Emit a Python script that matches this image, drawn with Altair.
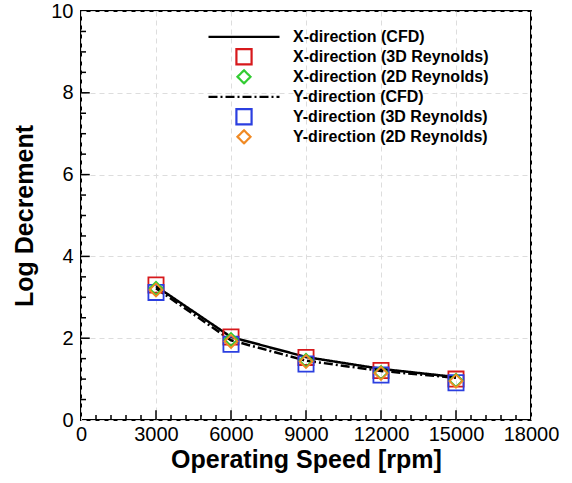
import altair as alt
import pandas as pd

speeds = [3000, 6000, 9000, 12000, 15000]
x_cfd = [3.27, 2.03, 1.54, 1.25, 1.05]
y_cfd = [3.22, 1.95, 1.45, 1.20, 1.03]
x_3d = [3.30, 2.03, 1.53, 1.21, 1.00]
x_2d = [3.22, 1.97, 1.46, 1.16, 0.97]
y_3d = [3.12, 1.85, 1.37, 1.10, 0.91]
y_2d = [3.18, 1.92, 1.43, 1.14, 0.95]

series_names = [
    "X-direction (CFD)",
    "X-direction (3D Reynolds)",
    "X-direction (2D Reynolds)",
    "Y-direction (CFD)",
    "Y-direction (3D Reynolds)",
    "Y-direction (2D Reynolds)",
]
series_colors = ["#000000", "#d7191c", "#33cc33", "#000000", "#2b3fe0", "#f08a24"]
series_shapes = ["stroke", "square", "diamond", "stroke", "square", "diamond"]
series_sizes = [5041, 230, 170, 5041, 230, 170]
series_dash = [[1, 0], [1, 0], [1, 0], [9, 3, 2, 3], [1, 0], [1, 0]]

x_major = [3000, 6000, 9000, 12000, 15000]
x_minor = [600, 1200, 1800, 2400, 3600, 4200, 4800, 5400, 6600, 7200, 7800, 8400,
           9600, 10200, 10800, 11400, 12600, 13200, 13800, 14400, 15600, 16200, 16800, 17400]
y_major = [2, 4, 6, 8]
y_minor = [0.5, 1, 1.5, 2.5, 3, 3.5, 4.5, 5, 5.5, 6.5, 7, 7.5, 8.5, 9, 9.5]

FONT = "Liberation Sans"

lines_df = pd.DataFrame(
    [{"speed": s, "value": v, "series": series_names[0]} for s, v in zip(speeds, x_cfd)]
    + [{"speed": s, "value": v, "series": series_names[3]} for s, v in zip(speeds, y_cfd)]
)
pts = []
for name, vals in [(series_names[1], x_3d), (series_names[4], y_3d),
                   (series_names[2], x_2d), (series_names[5], y_2d)]:
    for s, v in zip(speeds, vals):
        pts.append({"speed": s, "value": v, "series": name})
pts_df = pd.DataFrame(pts)

xscale = alt.Scale(domain=[0, 18000], nice=False, zero=False)
yscale = alt.Scale(domain=[0, 10], nice=False)

x_axis = alt.Axis(values=[0, 3000, 6000, 9000, 12000, 15000, 18000], format="d",
                  title="Operating Speed [rpm]", ticks=False, domain=False,
                  grid=True, gridDash=[5, 4], gridColor="#dddddd", gridWidth=1,
                  labelFontSize=20, labelColor="black", labelFont=FONT, labelPadding=4,
                  titleFontSize=25, titleFont=FONT, titleFontWeight="bold",
                  titleColor="black", titlePadding=3, labelFlush=False, labelOverlap=False)
y_axis = alt.Axis(values=[0, 2, 4, 6, 8, 10], title="Log Decrement", ticks=False, domain=False,
                  grid=True, gridDash=[5, 4], gridColor="#dddddd", gridWidth=1,
                  labelFontSize=20, labelColor="black", labelFont=FONT, labelPadding=8,
                  titleFontSize=25, titleFont=FONT, titleFontWeight="bold",
                  titleColor="black", titlePadding=13, labelFlush=False, labelOverlap=False)

color = alt.Color("series:N", scale=alt.Scale(domain=series_names, range=series_colors),
                  sort=series_names,
                  legend=alt.Legend(title=None, orient="none", legendX=126, legendY=16,
                                    labelFont=FONT, labelFontSize=16, labelFontWeight="bold",
                                    labelColor="black", symbolStrokeWidth=2.2,
                                    clipHeight=19.6, labelOffset=12, rowPadding=0,
                                    labelLimit=400, symbolFillColor="transparent"))
shape = alt.Shape("series:N", scale=alt.Scale(domain=series_names, range=series_shapes),
                  sort=series_names, legend=alt.Legend(title=None))
size = alt.Size("series:N",
                scale=alt.Scale(type="ordinal", domain=series_names, range=series_sizes),
                sort=series_names, legend=alt.Legend(title=None))
dash = alt.StrokeDash("series:N", scale=alt.Scale(domain=series_names, range=series_dash),
                      sort=series_names, legend=alt.Legend(title=None))

base_x = alt.X("speed:Q", scale=xscale, axis=x_axis)
base_y = alt.Y("value:Q", scale=yscale, axis=y_axis)

lines = alt.Chart(lines_df).mark_line(strokeWidth=2.5).encode(
    x=base_x, y=base_y, color=color, strokeDash=dash)

points = alt.Chart(pts_df).mark_point(filled=False, strokeWidth=1.8, opacity=1).encode(
    x=alt.X("speed:Q", scale=xscale), y=alt.Y("value:Q", scale=yscale),
    color=color, shape=shape, size=size)

# inward tick marks, built in data units
xt_df = pd.DataFrame({"pos": x_major + x_minor,
                      "y0": [0.0] * (len(x_major) + len(x_minor)),
                      "y1": [0.24] * len(x_major) + [0.12] * len(x_minor)})
yt_df = pd.DataFrame({"pos": y_major + y_minor,
                      "x0": [0.0] * (len(y_major) + len(y_minor)),
                      "x1": [350.0] * len(y_major) + [200.0] * len(y_minor)})
xticks = alt.Chart(xt_df).mark_rule(color="black", strokeWidth=1.5).encode(
    x=alt.X("pos:Q", scale=xscale), y=alt.Y("y0:Q", scale=yscale), y2="y1:Q")
yticks = alt.Chart(yt_df).mark_rule(color="black", strokeWidth=1.5).encode(
    y=alt.Y("pos:Q", scale=yscale), x=alt.X("x0:Q", scale=xscale), x2="x1:Q")

chart = alt.layer(xticks, yticks, lines, points).properties(
    width=450, height=409,
    autosize=alt.AutoSizeParams(type="none"),
    padding={"left": 81, "top": 11, "right": 41, "bottom": 63},
    background="white",
).configure_view(stroke="black", strokeWidth=2)

chart.save("out.html", embed_options={"renderer": "svg", "actions": False})
